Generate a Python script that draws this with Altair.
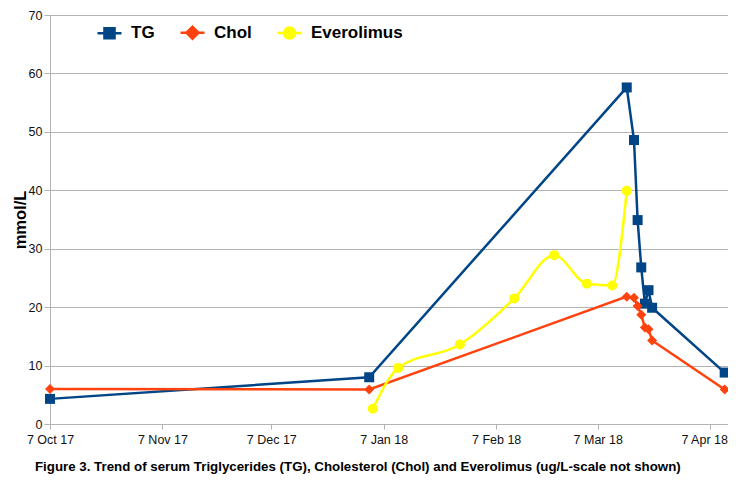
import altair as alt
import pandas as pd

# ---- data ----
series_names = ["TG", "Chol", "Everolimus"]
series_colors = ["#004586", "#ff420e", "#ffff00"]
series_shapes = ["square", "diamond", "circle"]

tg_dates = ["2017-10-07", "2018-01-03", "2018-03-15", "2018-03-17", "2018-03-18",
            "2018-03-19", "2018-03-20", "2018-03-21", "2018-03-22", "2018-04-11"]
tg_values = [4.3, 8.0, 57.6, 48.6, 34.9, 26.8, 20.6, 22.9, 19.9, 8.8]

chol_dates = ["2017-10-07", "2018-01-03", "2018-03-15", "2018-03-17", "2018-03-18",
              "2018-03-19", "2018-03-20", "2018-03-21", "2018-03-22", "2018-04-11"]
chol_values = [6.0, 5.9, 21.8, 21.6, 20.2, 18.7, 16.5, 16.2, 14.3, 5.9]

evero_dates = ["2018-01-04", "2018-01-11", "2018-01-28", "2018-02-12", "2018-02-23",
               "2018-03-04", "2018-03-11", "2018-03-15"]
evero_values = [2.6, 9.6, 13.6, 21.5, 28.9, 24.0, 23.7, 39.9]

x_tick_dates = ["2017-10-07", "2017-11-07", "2017-12-07", "2018-01-07",
                "2018-02-07", "2018-03-07", "2018-04-07"]
x_domain_dates = ["2017-10-07", "2018-04-11"]
y_ticks = [0, 10, 20, 30, 40, 50, 60, 70]

caption = ("Figure 3. Trend of serum Triglycerides (TG), Cholesterol (Chol) "
           "and Everolimus (ug/L-scale not shown)")

# ---- build table ----
rows = []
for name, dates, vals in [("TG", tg_dates, tg_values),
                          ("Chol", chol_dates, chol_values),
                          ("Everolimus", evero_dates, evero_values)]:
    for d, v in zip(dates, vals):
        rows.append({"date": d, "value": v, "series": name})
df = pd.DataFrame(rows)


def dt(s, hours=0):
    y, m, d = (int(p) for p in s.split("-"))
    return alt.DateTime(year=y, month=m, date=d, hours=hours, utc=True)


x_enc = alt.X("date:T",
              scale=alt.Scale(type="utc",
                              domain=[dt(x_domain_dates[0]), dt(x_domain_dates[1], 22)]),
              axis=alt.Axis(values=[dt(s) for s in x_tick_dates], format="%-d %b %y",
                            title=None, grid=False, tickSize=5, labelPadding=4,
                            labelFontSize=12.5, labelColor="#111111", labelFlush=False,
                            labelOffset={"condition": {"test": "datum.value > utc(2018, 3, 1)",
                                                       "value": -6},
                                         "value": 0}))
y_enc = alt.Y("value:Q",
              scale=alt.Scale(domain=[0, 70], nice=False),
              axis=alt.Axis(values=y_ticks, title="mmol/L", grid=True, tickSize=6,
                            labelPadding=2, labelFontSize=12.5, labelColor="#111111",
                            titleFontSize=16.5, titleFontWeight="bold", titleColor="black",
                            titlePadding=0))

# legend symbols: line + marker paths
sym_paths = {
    "TG": "M-1,0H-0.42M0.42,0H1M-0.42,-0.42H0.42V0.42H-0.42Z",
    "Chol": "M-1,0H-0.5M0.5,0H1M-0.5,0L0,-0.5L0.5,0L0,0.5Z",
    "Everolimus": "M-1,0H1M0.46,0A0.46,0.46,0,1,1,-0.46,0A0.46,0.46,0,1,1,0.46,0Z",
}
shape_expr = ("datum.value === 'TG' ? '" + sym_paths["TG"] + "' : datum.value === 'Chol' ? '"
              + sym_paths["Chol"] + "' : '" + sym_paths["Everolimus"] + "'")
color_expr = "scale('color', datum.value)"

legend = alt.Legend(
    title=None, orient="none", direction="horizontal", legendX=46, legendY=4,
    labelFontSize=17, labelFontWeight="bold", labelColor="black", labelOffset=8,
    symbolSize=576, columnPadding=20, labelLimit=200,
    symbolType=alt.ExprRef(expr=shape_expr),
    symbolFillColor=alt.ExprRef(expr=color_expr),
    symbolStrokeColor=alt.ExprRef(expr=color_expr),
    symbolStrokeWidth=2.5, symbolOpacity=1)

color_enc = alt.Color("series:N",
                      scale=alt.Scale(domain=series_names, range=series_colors),
                      legend=legend)

base = alt.Chart(df)

lines_straight = base.transform_filter(
    alt.FieldOneOfPredicate(field="series", oneOf=["TG", "Chol"])
).mark_line(strokeWidth=2.5).encode(x=x_enc, y=y_enc, color=color_enc,
                                    detail="series:N")

lines_smooth = base.transform_filter(
    alt.FieldEqualPredicate(field="series", equal="Everolimus")
).mark_line(strokeWidth=2.5, interpolate="monotone").encode(x=x_enc, y=y_enc,
                                                            color=color_enc)

point_layers = []
for name, shp in zip(series_names, series_shapes):
    point_layers.append(
        base.transform_filter(alt.FieldEqualPredicate(field="series", equal=name))
        .mark_point(filled=True, opacity=1, size=100, shape=shp)
        .encode(x=x_enc, y=y_enc, color=color_enc)
    )

chart = alt.layer(lines_straight, lines_smooth, *point_layers).properties(
    width=678, height=409,
    padding={"left": 42, "top": 7, "right": 0, "bottom": 50},
    autosize=alt.AutoSizeParams(type="none"),
    title=alt.Title(caption, orient="bottom", anchor="start", frame="group", dx=-15,
                    offset=14, fontSize=13.3, fontWeight="bold", color="black",
                    font="Liberation Sans"),
).configure(font="Liberation Sans").configure_view(
    stroke="#b3b3b3", strokeWidth=1
).configure_axis(
    domainColor="#b3b3b3", tickColor="#b3b3b3", gridColor="#b3b3b3",
    labelFont="Liberation Sans", titleFont="Liberation Sans"
).configure_legend(labelFont="Liberation Sans")

chart.save("out.html", embed_options={"renderer": "svg", "actions": False})
